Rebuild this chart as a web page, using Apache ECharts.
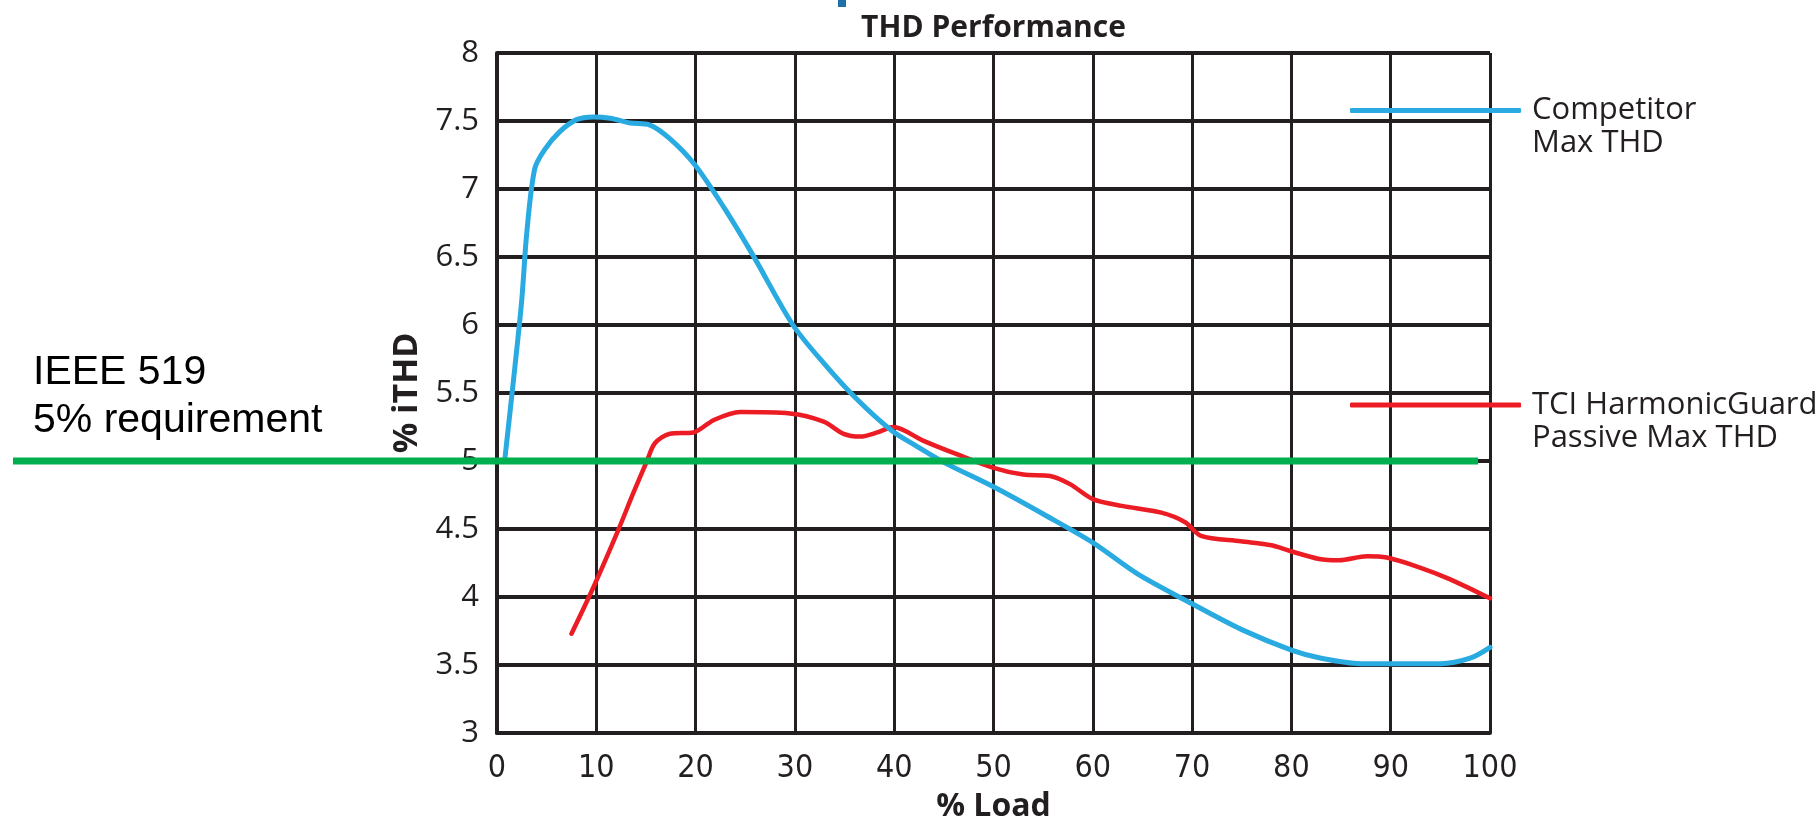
<!DOCTYPE html>
<html>
<head>
<meta charset="utf-8">
<title>THD Performance</title>
<script src="https://cdn.jsdelivr.net/npm/echarts@6/dist/echarts.min.js"></script>
<style>
  html, body { margin: 0; padding: 0; background: #ffffff; }
  #chart { width: 1819px; height: 818px; }
</style>
</head>
<body>
<div id="chart"></div>
<script>
// Axis ticks
const loadTicks = [0, 10, 20, 30, 40, 50, 60, 70, 80, 90, 100];
const thdTicks = [3, 3.5, 4, 4.5, 5, 5.5, 6, 6.5, 7, 7.5, 8];

// Competitor Max THD (% iTHD vs % load)
const competitorLoad = [0.8, 1.8, 2.5, 3.0, 3.8, 4.8, 6.3, 8.0, 9.7, 11.4, 13.4, 15.4, 17.4, 19.9, 22.8, 25.8, 29.8, 32.9, 36.3, 39.8, 42.0, 45.0, 50.0, 55.0, 60.0, 64.5, 70.0, 75.0, 80.0, 83.0, 87.0, 90.0, 95.0, 98.0, 100.0];
const competitorTHD  = [5.02, 5.69, 6.19, 6.68, 7.15, 7.29, 7.42, 7.51, 7.53, 7.52, 7.485, 7.47, 7.37, 7.18, 6.87, 6.51, 6.00, 5.72, 5.45, 5.22, 5.12, 4.99, 4.81, 4.61, 4.40, 4.17, 3.95, 3.76, 3.61, 3.55, 3.51, 3.51, 3.51, 3.55, 3.63];

// TCI HarmonicGuard Passive Max THD
const tciLoad = [7.5, 9.7, 12.2, 13.7, 15.1, 15.9, 17.4, 19.8, 21.8, 24.5, 29.5, 32.9, 34.9, 36.6, 38.3, 39.9, 42.9, 46.3, 50.0, 53.0, 55.7, 57.7, 60.0, 62.9, 66.9, 69.3, 70.9, 74.9, 78.0, 79.8, 82.8, 84.8, 87.6, 89.6, 92.8, 96.0, 100.0];
const tciTHD  = [3.73, 4.07, 4.49, 4.76, 5.00, 5.13, 5.20, 5.21, 5.30, 5.36, 5.35, 5.29, 5.20, 5.18, 5.21, 5.25, 5.15, 5.05, 4.95, 4.90, 4.89, 4.83, 4.72, 4.67, 4.62, 4.55, 4.45, 4.41, 4.38, 4.34, 4.28, 4.27, 4.30, 4.29, 4.22, 4.13, 3.99];

// IEEE 519 limit line
const limitTHD = 5;
const limitEndLoad = 98.8;

const seriesNames = ['Competitor\nMax THD', 'TCI HarmonicGuard\nPassive Max THD'];
const ink = '#231f20';

const zip = (xs, ys) => xs.map((x, i) => [x, ys[i]]);

const chart = echarts.init(document.getElementById('chart'), null, { renderer: 'canvas' });

// Legend entries: the first text line sits level with the swatch,
// the second line hangs below it (a blank line on top keeps it centred).
const legendBase = {
  orient: 'vertical',
  left: 1350,
  padding: 0,
  icon: 'roundRect',
  itemWidth: 171,
  itemHeight: 5,
  selectedMode: false,
  formatter: name => ' \n' + name,
  textStyle: {
    fontFamily: '"Open Sans", sans-serif',
    fontSize: 31,
    lineHeight: 33,
    color: ink,
    padding: [0, 0, 0, 6]
  }
};

chart.setOption({
  animation: false,
  backgroundColor: '#ffffff',
  title: {
    text: 'THD Performance',
    left: 993.5,
    top: 13,
    textAlign: 'center',
    padding: 0,
    textStyle: {
      fontFamily: '"Open Sans", sans-serif',
      fontWeight: 'bold',
      fontSize: 30,
      color: ink
    }
  },
  legend: [
    Object.assign({}, legendBase, { top: 61, data: [seriesNames[0]] }),
    Object.assign({}, legendBase, { top: 355.5, data: [seriesNames[1]] })
  ],
  grid: {
    left: 497, right: 329, top: 53, bottom: 85,
    containLabel: false,
    outerBoundsMode: 'none'
  },
  xAxis: {
    type: 'value',
    min: loadTicks[0],
    max: loadTicks[loadTicks.length - 1],
    interval: 10,
    name: '% Load',
    nameLocation: 'middle',
    nameGap: 58,
    nameTextStyle: {
      fontFamily: '"Open Sans", sans-serif',
      fontWeight: 'bold',
      fontSize: 32,
      color: ink
    },
    axisLine: { show: true, lineStyle: { color: ink, width: 4 } },
    axisTick: { show: false },
    axisLabel: {
      margin: 20,
      fontFamily: '"Liberation Sans Narrow", "DejaVu Sans Condensed", sans-serif',
      fontSize: 32,
      color: ink
    },
    splitLine: { show: true, lineStyle: { color: ink, width: 3 } }
  },
  yAxis: {
    type: 'value',
    min: thdTicks[0],
    max: thdTicks[thdTicks.length - 1],
    interval: 0.5,
    name: '% iTHD',
    nameLocation: 'middle',
    nameRotate: 90,
    nameGap: 68,
    nameTextStyle: {
      fontFamily: '"Open Sans", sans-serif',
      fontWeight: 'bold',
      fontSize: 34,
      color: ink
    },
    axisLine: { show: true, lineStyle: { color: ink, width: 4 } },
    axisTick: { show: false },
    axisLabel: {
      margin: 18,
      fontFamily: '"Open Sans", sans-serif',
      fontSize: 31,
      color: ink
    },
    splitLine: { show: true, lineStyle: { color: ink, width: 4 } }
  },
  series: [
    {
      name: seriesNames[0],
      type: 'line',
      data: zip(competitorLoad, competitorTHD),
      showSymbol: false,
      smooth: 0.3,
      color: '#29abe2',
      lineStyle: { color: '#29abe2', width: 5, cap: 'round' },
      z: 5
    },
    {
      name: seriesNames[1],
      type: 'line',
      data: zip(tciLoad, tciTHD),
      showSymbol: false,
      smooth: 0.3,
      color: '#ec1c24',
      lineStyle: { color: '#ec1c24', width: 4.5, cap: 'round' },
      z: 4
    }
  ]
});

// Limit line and its caption, placed through the axis scales
const limitY = chart.convertToPixel({ yAxisIndex: 0 }, limitTHD);
const limitX2 = chart.convertToPixel({ xAxisIndex: 0 }, limitEndLoad);

chart.setOption({
  graphic: [
    {
      type: 'rect',
      shape: { x: 838, y: 0, width: 8, height: 7 },
      style: { fill: '#1f6fa8' },
      silent: true
    },
    {
      type: 'line',
      shape: { x1: 13, y1: limitY, x2: limitX2, y2: limitY },
      style: { stroke: '#00b050', lineWidth: 7 },
      z: 100,
      silent: true
    },
    {
      type: 'text',
      x: 33,
      y: 349,
      style: {
        text: 'IEEE 519\n5% requirement',
        font: '41px "Liberation Sans", Arial, sans-serif',
        lineHeight: 48,
        fill: '#000000',
        textAlign: 'left',
        textVerticalAlign: 'top'
      },
      z: 100,
      silent: true
    }
  ]
});
</script>
</body>
</html>
